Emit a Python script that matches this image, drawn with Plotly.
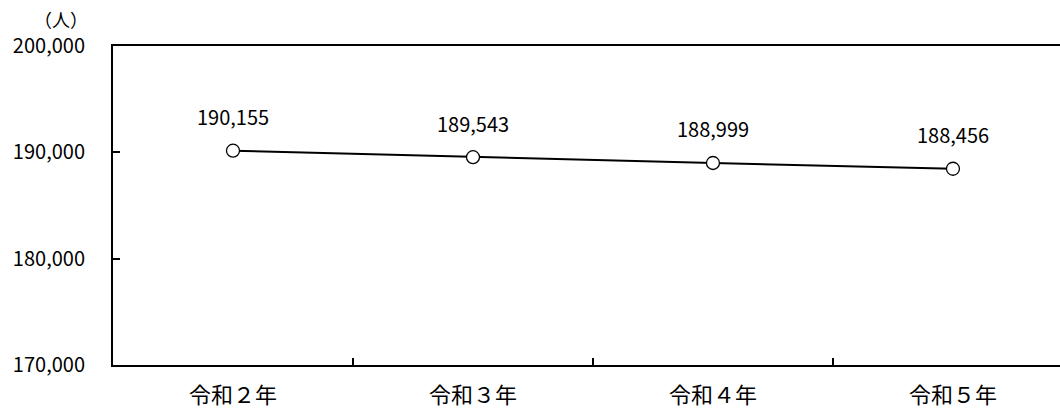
import plotly.graph_objects as go

years = ["令和２年", "令和３年", "令和４年", "令和５年"]
population = [190155, 189543, 188999, 188456]
y_ticks = [170000, 180000, 190000, 200000]
y_tick_labels = ["170,000", "180,000", "190,000", "200,000"]
unit_label = "（人）"

FONT = "Noto Sans CJK JP, Noto Sans, sans-serif"
idx = list(range(len(years)))
boundaries = [i + 0.5 for i in idx[:-1]]

fig = go.Figure()
fig.add_trace(go.Scatter(
    x=idx, y=population, mode="lines+markers",
    line=dict(color="black", width=2),
    marker=dict(symbol="circle", size=13, color="white",
                line=dict(color="black", width=1.3)),
    showlegend=False, hoverinfo="skip",
))

for xv, yv in zip(idx, population):
    fig.add_annotation(x=xv, y=yv, text=f"{yv:,}", showarrow=False,
                       yshift=34, font=dict(size=20, color="black", family=FONT))

fig.add_annotation(xref="paper", yref="paper", x=-0.024, y=1.0, yshift=27,
                   xanchor="right", yanchor="middle", text=unit_label,
                   showarrow=False, font=dict(size=18, color="black", family=FONT))

fig.update_layout(
    width=1060, height=409,
    margin=dict(l=113, r=0, t=46, b=44),
    paper_bgcolor="white", plot_bgcolor="white",
    font=dict(family=FONT, color="black"),
    xaxis=dict(
        range=[-0.5, 3.446], tickvals=idx, ticktext=years, ticks="",
        minor=dict(tickvals=boundaries, ticks="inside", ticklen=7,
                   tickwidth=2, tickcolor="black", showgrid=False),
        showline=True, linecolor="black", linewidth=2,
        mirror=True, showgrid=False, zeroline=False, ticklabelstandoff=10,
        tickfont=dict(size=22, color="black", family=FONT),
    ),
    yaxis=dict(
        range=[170000, 200000], tickvals=y_ticks, ticktext=y_tick_labels,
        ticks="inside", ticklen=7, tickwidth=2, tickcolor="black",
        showline=True, linecolor="black", linewidth=2, showgrid=False,
        zeroline=False, ticklabelstandoff=22, mirror=False,
        tickfont=dict(size=20, color="black", family=FONT),
    ),
)

fig.write_html("out.html", config={"staticPlot": True})
